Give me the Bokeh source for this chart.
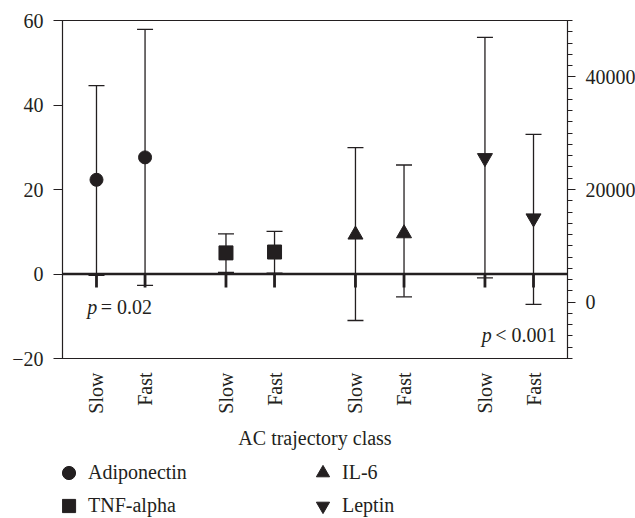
import math
from bokeh.plotting import figure
from bokeh.layouts import column
from bokeh.models import (Range1d, LinearAxis, SingleIntervalTicker, FixedTicker,
                          Span, Label, Legend, LegendItem)
from bokeh.embed import file_html
from bokeh.resources import INLINE

# ---------------- data ----------------
biomarkers = ["Adiponectin", "TNF-alpha", "IL-6", "Leptin"]
classes = ["Slow", "Fast"]

adiponectin_mean = [22.3, 27.6]
adiponectin_low = [-0.3, -2.7]
adiponectin_high = [44.6, 57.9]

tnf_mean = [5.0, 5.2]
tnf_low = [0.4, 0.2]
tnf_high = [9.5, 10.1]

il6_mean = [9.3, 9.6]
il6_low = [-11.0, -5.4]
il6_high = [29.9, 25.8]

leptin_mean = [25600, 14900]   # right axis
leptin_low = [4300, -400]
leptin_high = [47000, 29800]

left_ticks = [-20, 0, 20, 40, 60]
right_ticks = [0, 20000, 40000]
p_texts = [("p", "= 0.02"), ("p", "< 0.001")]

# ---------------- style ----------------
FONT = "Liberation Serif"
FS = "20px"
INK = "#231f20"
TOTAL_W = 635

def xpos(g):
    return [3 + 8 * g + 3 * c for c in range(len(classes))]

p = figure(frame_width=505, frame_height=338,
           min_border_left=62, min_border_right=60, min_border_top=20, min_border_bottom=100,
           x_range=Range1d(0.9, 32.1), y_range=Range1d(-20, 60),
           output_backend="svg", toolbar_location=None)
p.extra_y_ranges = {"right": Range1d(-10000, 50000)}
p.xgrid.visible = False
p.ygrid.visible = False
p.outline_line_color = INK
p.outline_line_width = 1.2
p.background_fill_color = "white"
p.border_fill_color = "white"

# x axis
all_x = []
labels = {}
for g in range(len(biomarkers)):
    for c, x in enumerate(xpos(g)):
        all_x.append(x)
        labels[x] = classes[c]
xa = p.xaxis[0]
xa.ticker = FixedTicker(ticks=all_x, minor_ticks=[])
xa.major_label_overrides = labels
xa.major_label_orientation = math.pi / 2
xa.major_tick_out = 0
xa.major_tick_in = 0
xa.minor_tick_out = 0
xa.major_label_standoff = 14
xa.major_label_text_font = FONT
xa.major_label_text_font_size = FS
xa.major_label_text_color = INK
xa.axis_line_color = INK
xa.axis_label = "AC trajectory class"
xa.axis_label_text_font = FONT
xa.axis_label_text_font_size = FS
xa.axis_label_text_font_style = "normal"
xa.axis_label_text_color = INK
xa.axis_label_standoff = 10

# left axis
ya = p.yaxis[0]
ya.ticker = FixedTicker(ticks=left_ticks, minor_ticks=[])
ya.major_label_overrides = {t: (("\u2212" + str(abs(t))) if t < 0 else str(t)) for t in left_ticks}
ya.major_tick_out = 9
ya.major_tick_in = 0
ya.major_label_standoff = 10
ya.major_label_text_font = FONT
ya.major_label_text_font_size = FS
ya.major_label_text_color = INK
ya.axis_line_color = INK
ya.major_tick_line_color = INK

# right axis
ra = LinearAxis(y_range_name="right",
                ticker=SingleIntervalTicker(interval=20000, num_minor_ticks=10))
ra.major_label_overrides = {t: str(t) for t in right_ticks}
ra.major_tick_out = 8
ra.major_tick_in = 0
ra.minor_tick_out = 5
ra.minor_tick_in = 0
ra.major_label_standoff = 10
ra.major_label_text_font = FONT
ra.major_label_text_font_size = FS
ra.major_label_text_color = INK
ra.axis_line_color = INK
ra.major_tick_line_color = INK
ra.minor_tick_line_color = INK
p.add_layout(ra, "right")

# zero line and its ticks
p.add_layout(Span(location=0, dimension="width", line_color=INK, line_width=2.5))
p.segment(x0=all_x, y0=[0] * len(all_x), x1=all_x, y1=[-3.2] * len(all_x),
          line_color=INK, line_width=2.8)

series = [
    (adiponectin_mean, adiponectin_low, adiponectin_high, "circle", 13, "default"),
    (tnf_mean, tnf_low, tnf_high, "square", 14, "default"),
    (il6_mean, il6_low, il6_high, "triangle", 15, "default"),
    (leptin_mean, leptin_low, leptin_high, "inverted_triangle", 15, "right"),
]
for g, (m, lo, hi, mk, sz, rng) in enumerate(series):
    xs = xpos(g)
    p.segment(x0=xs, y0=lo, x1=xs, y1=hi, line_color=INK, line_width=1.3, y_range_name=rng)
    p.scatter(x=xs, y=lo, marker="dash", size=16, line_color=INK, line_width=1.3, y_range_name=rng)
    p.scatter(x=xs, y=hi, marker="dash", size=16, line_color=INK, line_width=1.3, y_range_name=rng)
    p.scatter(x=xs, y=m, marker=mk, size=sz, fill_color=INK, line_color=INK, y_range_name=rng)

# p-value annotations
for (xd, yd, off), (a, b) in zip([(2.43, -7.8, 13.5), (26.8, -14.5, 13.5)], p_texts):
    p.add_layout(Label(x=xd, y=yd, text=a, text_font=FONT, text_font_size=FS,
                       text_font_style="italic", text_color=INK, text_baseline="alphabetic"))
    p.add_layout(Label(x=xd, y=yd, x_offset=off, text=b, text_font=FONT, text_font_size=FS,
                       text_color=INK, text_baseline="alphabetic"))

# ---------------- legend strip below ----------------
leg = figure(width=TOTAL_W, height=60, min_border=0,
             x_range=Range1d(0, 1), y_range=Range1d(0, 1),
             x_axis_location=None, y_axis_location=None,
             output_backend="svg", toolbar_location=None)
leg.xgrid.visible = False
leg.ygrid.visible = False
leg.outline_line_color = None
leg.background_fill_color = "white"
leg.border_fill_color = "white"
leg_renderers = []
for (m, lo, hi, mk, sz, rng) in series:
    # a single off-range point: the renderer only supplies the legend swatch
    leg_renderers.append(leg.scatter(x=[-1], y=[-1], marker=mk, size=sz,
                                     fill_color=INK, line_color=INK))
legend = Legend(items=[LegendItem(label=b, renderers=[r]) for b, r in zip(biomarkers, leg_renderers)],
                location=(-10, -4), orientation="vertical", nrows=2,
                glyph_width=33, glyph_height=33, label_height=20, label_width=218,
                label_standoff=3, spacing=0, padding=0, margin=0,
                border_line_color=None, background_fill_alpha=0,
                label_text_font=FONT, label_text_font_size=FS, label_text_color=INK)
leg.add_layout(legend)

layout = column(p, leg, spacing=0)
open("out.html", "w").write(file_html(layout, INLINE))
